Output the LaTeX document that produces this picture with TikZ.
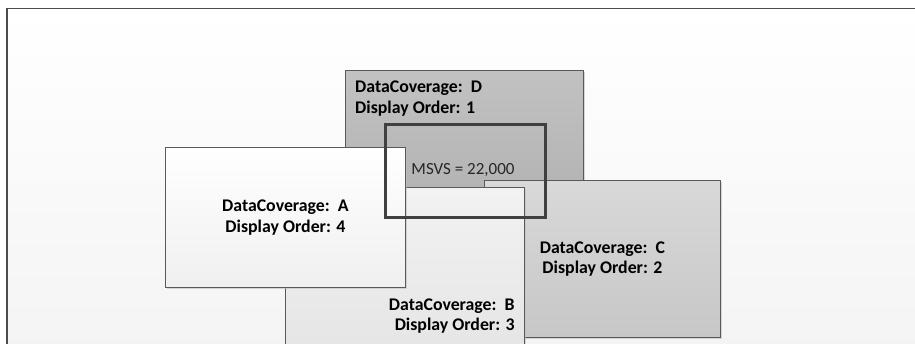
\documentclass[tikz,border=0pt]{standalone}
\usepackage{fontspec}
\setmainfont{Carlito}
\usetikzlibrary{positioning,shadows}

\begin{document}
\begin{tikzpicture}[x=1pt,y=-1pt,
    font=\fontsize{17}{20}\selectfont,
    cover/.style={draw=black!65, line width=0.8pt, anchor=north west,
      inner sep=0pt, drop shadow={shadow xshift=1.2pt, shadow yshift=-1.2pt,
      fill=black!25, opacity=0.6}},
    covtext/.style={font=\fontsize{17.8}{20.5}\selectfont\bfseries, inner sep=0pt}]
  \clip (0,0) rectangle (915,344);
  \useasboundingbox (0,0) rectangle (915,344);
  % frame
  \node[draw=black!70, line width=1.5pt, anchor=north west, inner sep=0pt,
    minimum width=960pt, minimum height=400pt,
    top color=white, bottom color=black!5] (frame) at (6,8) {};
  % D
  \node[cover, minimum width=238pt, minimum height=130pt,
    top color=black!24, bottom color=black!30] (covD) at (345,70) {};
  \node[covtext, align=left, below right=11pt and 10pt of covD.north west] (txtD)
    {DataCoverage:\ \ D\\Display Order: 1};
  % C
  \node[cover, minimum width=236pt, minimum height=157pt,
    top color=black!15, bottom color=black!22] (covC) at (484,180) {};
  \node[covtext, align=center] (txtC) at (covC.center) {DataCoverage:\ \ C\\Display Order: 2};
  % B
  \node[cover, minimum width=239pt, minimum height=190pt,
    top color=black!5, bottom color=black!11] (covB) at (285,187) {};
  \node[covtext, align=right, above left=44pt and 10pt of covB.south east] (txtB)
    {DataCoverage:\ \ B\\Display Order: 3};
  % A
  \node[cover, minimum width=240pt, minimum height=140pt,
    top color=white, bottom color=black!6] (covA) at (165,147) {};
  \node[covtext, align=center] (txtA) at (covA.center) {DataCoverage:\ \ A\\Display Order: 4};
  % MSVS
  \node[draw=black!75, line width=2.6pt, anchor=north west, inner sep=0pt,
    minimum width=160pt, minimum height=93pt] (msvs) at (384,123) {};
  \node[inner sep=0pt, text=black!85] (txtM) at (463,170) {MSVS = 22,000};
\end{tikzpicture}
\end{document}
